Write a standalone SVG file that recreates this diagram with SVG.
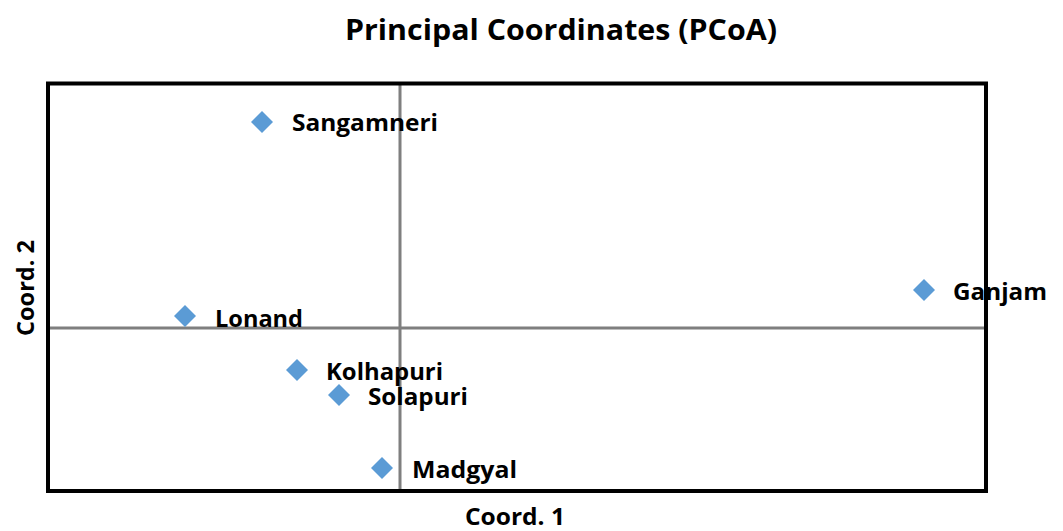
<svg xmlns="http://www.w3.org/2000/svg" width="1063" height="531" viewBox="0 0 1063 531">
<style>
text{font-family:"Open Sans","Noto Sans","Liberation Sans",sans-serif;font-weight:bold;fill:#000}
.lbl{font-size:23.5px}
.pt{fill:#5B9BD5}
</style>
<defs>
<path id="dm" d="M0,-11 L11,0 L0,11 L-11,0 Z"/>
</defs>
<rect width="1063" height="531" fill="#fff"/>
<text x="561" y="40" font-size="29" text-anchor="middle" textLength="432" lengthAdjust="spacingAndGlyphs">Principal Coordinates (PCoA)</text>
<g id="axes">
<line x1="400" y1="83" x2="400" y2="491" stroke="#7f7f7f" stroke-width="3"/>
<line x1="48" y1="328" x2="986" y2="328" stroke="#7f7f7f" stroke-width="3"/>
</g>
<g id="Sangamneri"><use href="#dm" class="pt" x="262" y="122"/><text class="lbl" x="292" y="131" textLength="146" lengthAdjust="spacingAndGlyphs">Sangamneri</text></g>
<g id="Lonand"><use href="#dm" class="pt" x="185" y="316"/><rect x="210" y="305" width="103" height="21" fill="#fff"/><text class="lbl" x="215" y="327" textLength="88" lengthAdjust="spacingAndGlyphs">Lonand</text></g>
<g id="Kolhapuri"><use href="#dm" class="pt" x="297" y="370"/><text class="lbl" x="326" y="380" textLength="117" lengthAdjust="spacingAndGlyphs">Kolhapuri</text></g>
<g id="Solapuri"><use href="#dm" class="pt" x="339" y="395"/><text class="lbl" x="368" y="405" textLength="100" lengthAdjust="spacingAndGlyphs">Solapuri</text></g>
<g id="Madgyal"><use href="#dm" class="pt" x="382" y="468"/><text class="lbl" x="412" y="478" textLength="105" lengthAdjust="spacingAndGlyphs">Madgyal</text></g>
<g id="Ganjam"><use href="#dm" class="pt" x="924" y="290"/><text class="lbl" x="953" y="300" textLength="94" lengthAdjust="spacingAndGlyphs">Ganjam</text></g>
<rect x="48" y="83.5" width="938" height="407.5" fill="none" stroke="#000" stroke-width="4"/>
<text x="515" y="525" font-size="23.5" text-anchor="middle" textLength="100" lengthAdjust="spacingAndGlyphs">Coord. 1</text>
<text transform="translate(34,288) rotate(-90)" font-size="23.5" text-anchor="middle" textLength="96" lengthAdjust="spacingAndGlyphs">Coord. 2</text>
</svg>
